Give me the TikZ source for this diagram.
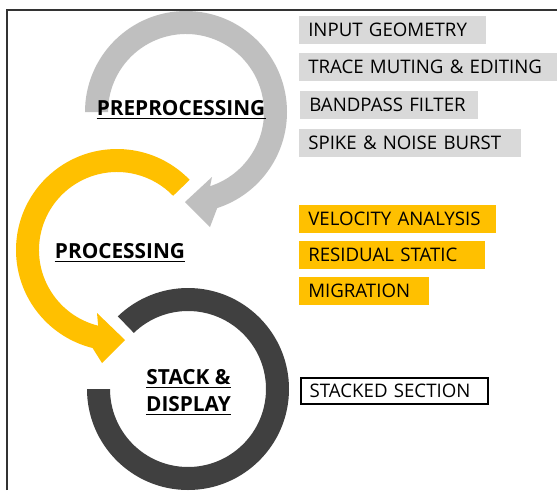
\documentclass[tikz,border=0pt]{standalone}
\usepackage{fontspec}
\setmainfont{Open Sans}
\usetikzlibrary{calc}
\definecolor{ringgray}{HTML}{BFBFBF}
\definecolor{boxgray}{HTML}{D9D9D9}
\definecolor{ringyellow}{HTML}{FFC000}
\definecolor{ringdark}{HTML}{404040}
\definecolor{framecol}{HTML}{333333}
\tikzset{
  listbox/.style={anchor=north west, inner xsep=6.75pt, inner ysep=0pt,
    minimum height=21pt, align=left, font=\fontsize{14pt}{16pt}\selectfont, text=black},
  graybox/.style={listbox, fill=boxgray},
  yellowbox/.style={listbox, fill=ringyellow},
  outlinebox/.style={listbox, draw=black, line width=1.8pt, fill=white},
  steplabel/.style={anchor=base, inner sep=0pt, font=\fontsize{15.6pt}{18pt}\selectfont\bfseries},
  ulline/.style={draw=black, line width=1.2pt},
  frameline/.style={draw=framecol, line width=1.5pt}
}
\begin{document}
\begin{tikzpicture}[x=0.75pt, y=-0.75pt]
\useasboundingbox (0,0) rectangle (557,490);
\fill[white] (0,0) rectangle (557,490);
\draw[frameline] (7,490) -- (7,10) -- (557,10);

% gray ring with arrow
\coordinate (gc) at (186,112);
\fill[ringgray] ($(gc)+(180:101)$) arc[start angle=180, end angle=432, radius=101]
  -- (210,227) -- (185,202) -- (212,177) -- ($(gc)+(432:78)$)
  arc[start angle=432, end angle=180, radius=78] -- cycle;

% yellow ring with arrow
\coordinate (yc) at (117,250);
\fill[ringyellow] ($(yc)+(-44:101)$) arc[start angle=-44, end angle=-256, radius=101]
  -- (102,363) -- (125,340) -- (97,313) -- ($(yc)+(-256:78)$)
  arc[start angle=-256, end angle=-44, radius=78] -- cycle;

% dark ring
\coordinate (dc) at (188,389);
\fill[ringdark] ($(dc)+(180:101)$) arc[start angle=180, end angle=-134, radius=101]
  -- ($(dc)+(-134:78)$) arc[start angle=-134, end angle=180, radius=78] -- cycle;

% labels
\node[steplabel] (pre) at (181,115) {PREPROCESSING};
\node[steplabel] (proc) at (120,258) {PROCESSING};
\node[steplabel] (stack) at (188.5,384) {STACK \&};
\node[steplabel] (disp) at (188.5,411) {DISPLAY};
\foreach \n in {pre,proc,stack,disp}
  \draw[ulline] ([yshift=-2.6pt]\n.base west) -- ([yshift=-2.6pt]\n.base east);

% gray list
\node[graybox, text width=126.75pt] (g1) at (299,16) {INPUT GEOMETRY};
\node[graybox, text width=180pt] (g2) at (299,52.5) {TRACE MUTING \& EDITING};
\node[graybox, text width=120pt] (g3) at (300,90.5) {BANDPASS FILTER};
\node[graybox, text width=153pt] (g4) at (299,129) {SPIKE \& NOISE BURST};

% yellow list
\node[yellowbox, text width=134.25pt] (y1) at (299,204.5) {VELOCITY ANALYSIS};
\node[yellowbox, text width=126pt] (y2) at (299,241) {RESIDUAL STATIC};
\node[yellowbox, text width=84pt] (y3) at (299,277) {MIGRATION};

% output
\node[outlinebox, text width=126.75pt, minimum height=19.5pt] (s1) at (299.5,376.5) {STACKED SECTION};
\end{tikzpicture}
\end{document}
